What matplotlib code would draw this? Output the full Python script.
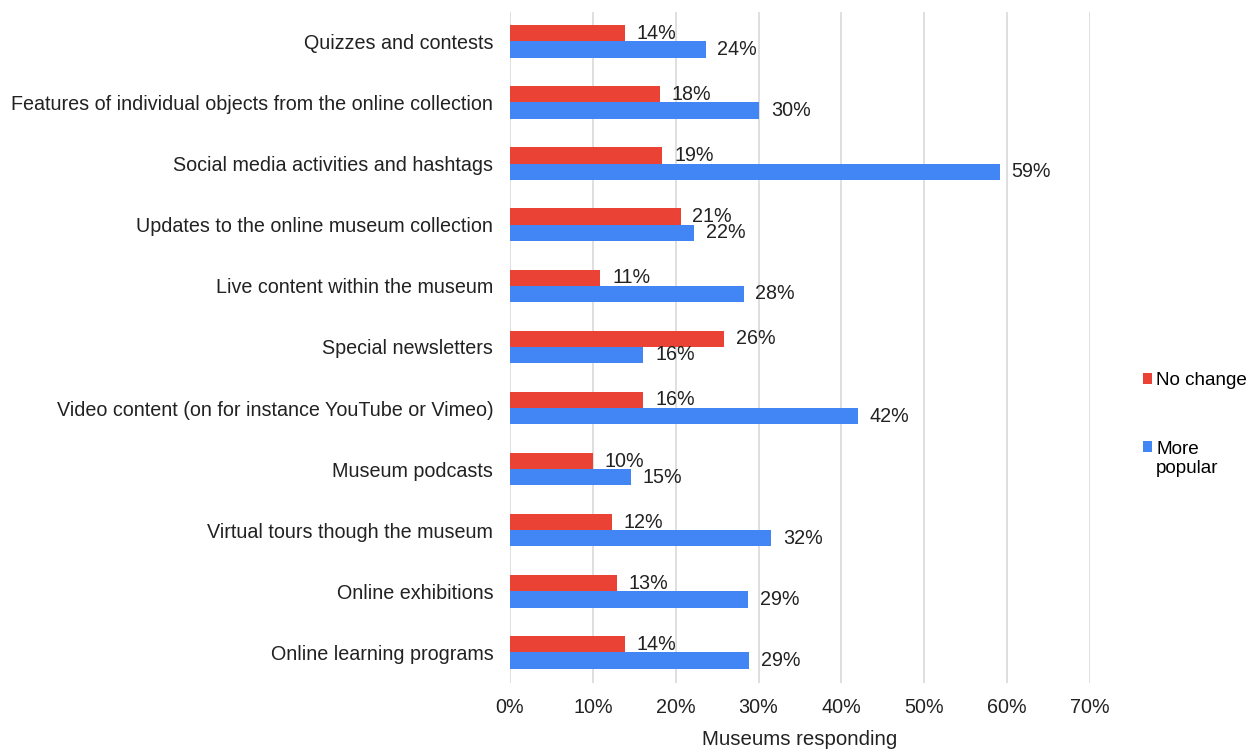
import matplotlib
matplotlib.use("Agg")
import matplotlib.pyplot as plt
from matplotlib.patches import Patch, Rectangle
from matplotlib.legend_handler import HandlerPatch
import numpy as np

categories = [
    "Quizzes and contests",
    "Features of individual objects from the online collection",
    "Social media activities and hashtags",
    "Updates to the online museum collection",
    "Live content within the museum",
    "Special newsletters",
    "Video content (on for instance YouTube or Vimeo)",
    "Museum podcasts",
    "Virtual tours though the museum",
    "Online exhibitions",
    "Online learning programs",
]
no_change = [13.9, 18.1, 18.4, 20.6, 10.9, 25.8, 16.1, 10.0, 12.3, 12.9, 13.9]
more_popular = [23.6, 30.1, 59.1, 22.2, 28.2, 16.1, 42.0, 14.6, 31.5, 28.7, 28.9]
no_change_labels = ["14%", "18%", "19%", "21%", "11%", "26%", "16%", "10%", "12%", "13%", "14%"]
more_popular_labels = ["24%", "30%", "59%", "22%", "28%", "16%", "42%", "15%", "32%", "29%", "29%"]
xticks = [0, 10, 20, 30, 40, 50, 60, 70]
xtick_labels = ["0%", "10%", "20%", "30%", "40%", "50%", "60%", "70%"]
series_names = ["No change", "More\npopular"]

RED = "#EA4335"
BLUE = "#4285F4"
TXT = "#222222"
FONT = "Liberation Sans"
FS = 14.2

plt.rcParams["font.family"] = [FONT, "DejaVu Sans"]

fig = plt.figure(figsize=(12.53, 7.51), dpi=100)
ax = fig.add_axes([510 / 1253, 1 - 683 / 751, 580 / 1253, 671 / 751])

y = np.arange(len(categories))
h = 0.265
ax.barh(y - h / 2, no_change, height=h, color=RED, zorder=3)
ax.barh(y + h / 2, more_popular, height=h, color=BLUE, zorder=3)

for yi, v, lab in zip(y, no_change, no_change_labels):
    ax.annotate(lab, (v, yi - h / 2), xytext=(8.5, 0), textcoords="offset points",
                va="center", ha="left", fontsize=FS, color=TXT, zorder=4)
for yi, v, lab in zip(y, more_popular, more_popular_labels):
    ax.annotate(lab, (v, yi + h / 2), xytext=(8.5, 0), textcoords="offset points",
                va="center", ha="left", fontsize=FS, color=TXT, zorder=4)

ax.set_xlim(0, 70)
ax.set_ylim(len(categories) - 0.5, -0.48)
ax.set_yticks(y)
ax.set_yticklabels(categories, fontsize=FS, color=TXT)
ax.set_xticks(xticks)
ax.set_xticklabels(xtick_labels, fontsize=FS, color=TXT)
ax.tick_params(axis="y", length=0, pad=12)
ax.tick_params(axis="x", length=0, pad=11)
ax.grid(axis="x", color="#d9d9d9", linewidth=1.2, zorder=0)
for s in ax.spines.values():
    s.set_visible(False)
ax.set_xlabel("Museums responding", fontsize=FS + 0.5, color=TXT, labelpad=9)


def top_square(legend, orig_handle, xdescent, ydescent, width, height, fontsize):
    return Rectangle((-xdescent, -ydescent), width, height)


def raised_square(legend, orig_handle, xdescent, ydescent, width, height, fontsize):
    return Rectangle((-xdescent, -ydescent + 9.0), width, height)


h_red = Patch(facecolor=RED, edgecolor="none")
h_blue = Patch(facecolor=BLUE, edgecolor="none")
ax.legend([h_red, h_blue], series_names, loc="center left", bbox_to_anchor=(1.078, 0.385),
          frameon=False, fontsize=13.6, handlelength=0.5, handleheight=0.5,
          handletextpad=0.2, labelspacing=2.75, borderaxespad=0,
          handler_map={h_red: HandlerPatch(patch_func=top_square),
                       h_blue: HandlerPatch(patch_func=raised_square)})

fig.savefig("out.png", dpi=100)
